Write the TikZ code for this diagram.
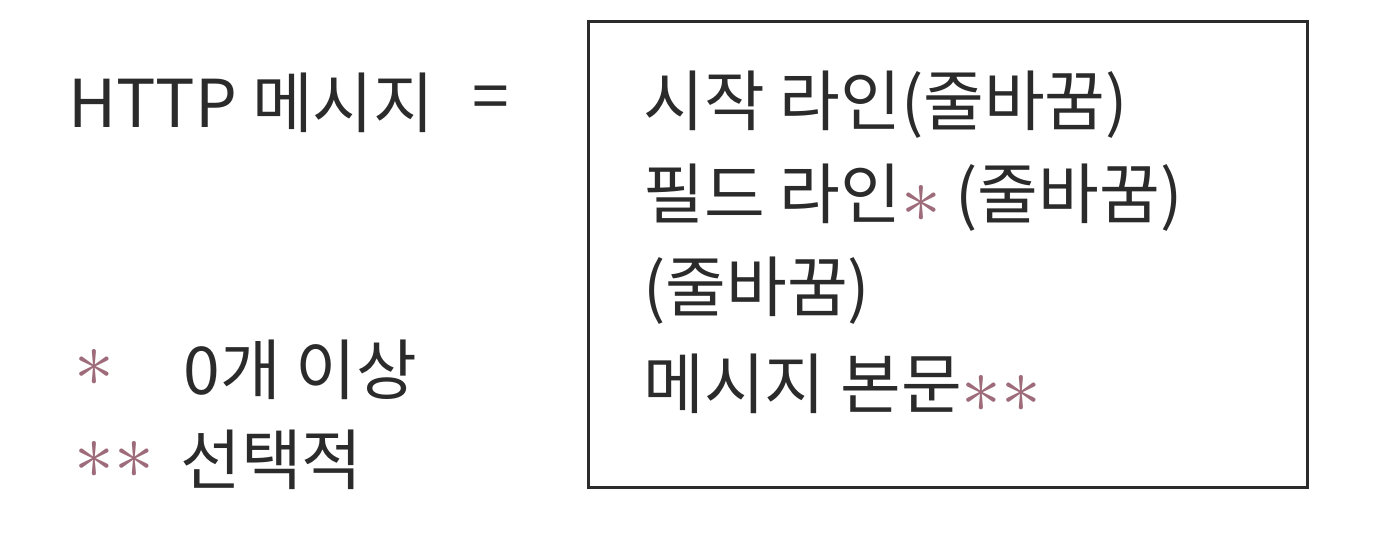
\documentclass[tikz,border=0pt]{standalone}
\usepackage{fontspec}
\setmainfont{Noto Sans CJK KR}
\usepackage{xcolor}
\usetikzlibrary{positioning}
\definecolor{starpink}{HTML}{9E6B7A}
\definecolor{ink}{HTML}{2B2B2B}
\newcommand{\st}{\textcolor{starpink}{\raisebox{-0.06em}{\scalebox{1.6}{$\ast$}}}}

\begin{document}
\begin{tikzpicture}[x=0.5pt,y=-0.5pt,
    every node/.style={font=\fontsize{33}{40}\selectfont,text=ink,inner sep=0pt,anchor=west},
    msgbox/.style={draw=ink,line width=1.5pt,minimum width=359.5pt,minimum height=232.5pt,anchor=center}]
  \useasboundingbox (0,0) rectangle (1384,556);
  \node[msgbox] (box) at (947.5,254.5) {};

  \node (l1) at (643,105) {시작 라인(줄바꿈)};
  \node (l2) [below=46.5pt of l1.west,anchor=west] {필드 라인\st{} (줄바꿈)};
  \node (l3) [below=46.5pt of l2.west,anchor=west] {(줄바꿈)};
  \node (l4) [below=46.5pt of l3.west,anchor=west] {메시지 본문\st\st};

  \node (msg) at (68,103) {HTTP 메시지};
  \node (eq) at (472,103) {=};
  \node (one) at (74,368) {\st};
  \node (onetxt) at (183,370) {0개 이상};
  \node (two) at (74,460) {\st\st};
  \node (twotxt) at (180,460) {선택적};
\end{tikzpicture}
\end{document}
